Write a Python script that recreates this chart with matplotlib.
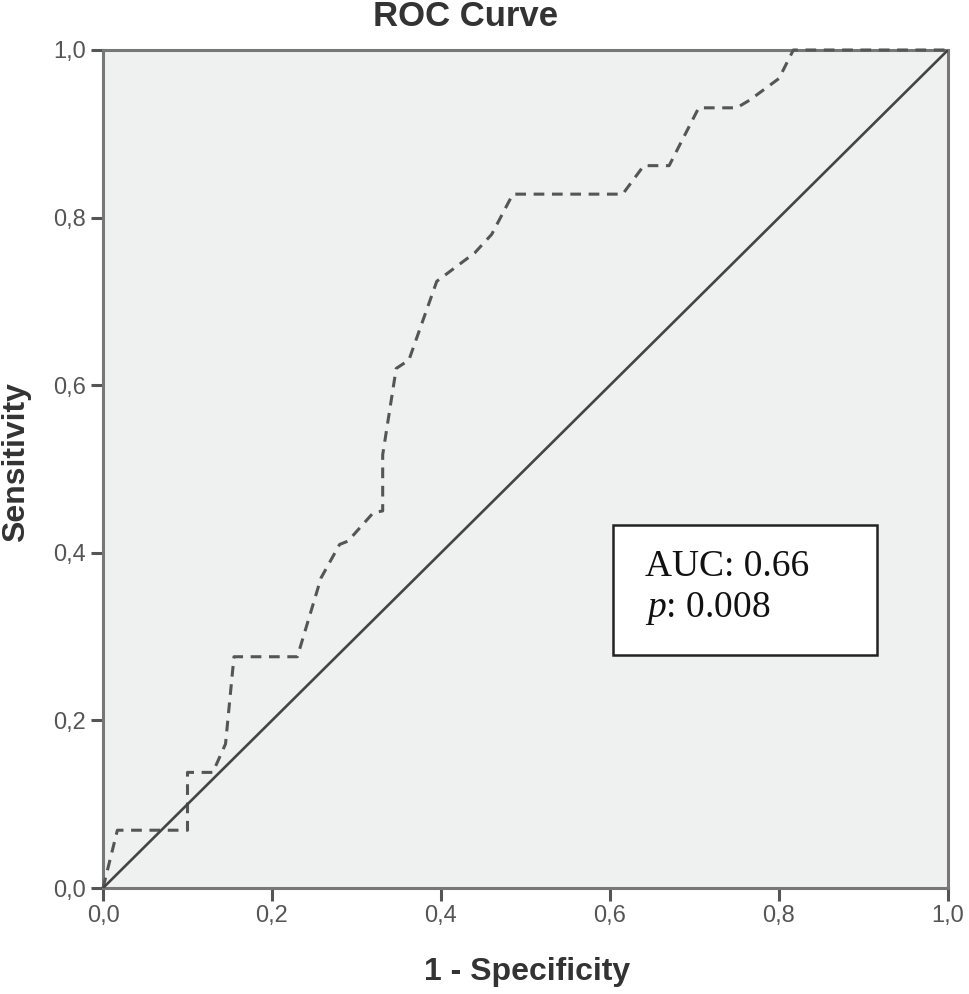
import matplotlib
matplotlib.use("Agg")
import matplotlib.pyplot as plt
from matplotlib.patches import Rectangle

# ROC curve points (1 - specificity, sensitivity)
fpr = [0.0, 0.017, 0.10, 0.10, 0.13, 0.145, 0.155, 0.23, 0.258, 0.28, 0.29,
       0.32, 0.331, 0.331, 0.347, 0.362, 0.395, 0.44, 0.46, 0.485, 0.615,
       0.64, 0.67, 0.705, 0.75, 0.765, 0.80, 0.817, 1.0]
tpr = [0.0, 0.069, 0.069, 0.138, 0.138, 0.172, 0.276, 0.276, 0.37, 0.41, 0.414,
       0.448, 0.45, 0.517, 0.62, 0.63, 0.724, 0.758, 0.78, 0.828, 0.828,
       0.862, 0.862, 0.931, 0.931, 0.94, 0.966, 1.0, 1.0]
ref_line = [0.0, 1.0]
ticks = [0.0, 0.2, 0.4, 0.6, 0.8, 1.0]
tick_labels = ["0,0", "0,2", "0,4", "0,6", "0,8", "1,0"]
auc_text = "AUC: 0.66"
p_value = "0.008"

plt.rcParams['font.family'] = ['Liberation Sans', 'DejaVu Sans']
plt.rcParams['mathtext.fontset'] = 'custom'
plt.rcParams['mathtext.it'] = 'Liberation Serif:italic'
plt.rcParams['mathtext.rm'] = 'Liberation Serif'

fig = plt.figure(figsize=(9.69, 9.94), dpi=100)
ax = fig.add_axes([0.1063, 0.1066, 0.8720, 0.8431])
ax.set_facecolor("#eff0f0")

ax.plot(fpr, tpr, color="#555555", lw=2.2, ls=(0, (3.5, 2.5)), zorder=3, clip_on=False)
ax.plot(ref_line, ref_line, color="#444444", lw=1.9, zorder=3)

ax.set_xlim(0, 1)
ax.set_ylim(0, 1)
ax.set_xticks(ticks)
ax.set_xticklabels(tick_labels)
ax.set_yticks(ticks)
ax.set_yticklabels(tick_labels)
ax.tick_params(direction="out", length=9, width=2.2, color="#555555",
               labelcolor="#555555", labelsize=17, pad=3)
for side in ax.spines.values():
    side.set_color("#777777")
    side.set_linewidth(2.2)

txt_col = "#333333"
fig.text(466 / 969, 1 - 16 / 994, "ROC Curve", fontsize=25, fontweight="bold",
         color=txt_col, ha="center", va="center")
fig.text(527 / 969, 1 - 972 / 994, "1 - Specificity", fontsize=23, fontweight="bold",
         color=txt_col, ha="center", va="center")
fig.text(16 / 969, 1 - 462 / 994, "Sensitivity", fontsize=23, fontweight="bold",
         color=txt_col, ha="center", va="center", rotation=90)

# annotation box
ax.add_patch(Rectangle((0.6036, 0.278), 0.3124, 0.155, transform=ax.transAxes,
                       fc="white", ec="#222222", lw=1.8, zorder=5))
ax.text(0.641, 0.383, auc_text, transform=ax.transAxes, fontsize=27,
        family=['Liberation Serif'], va="center", ha="left", color="#111111", zorder=6)
ax.text(0.641, 0.333, r"$p$: " + p_value, transform=ax.transAxes, fontsize=27,
        family=['Liberation Serif'], va="center", ha="left", color="#111111", zorder=6)

fig.savefig("out.png", dpi=100)
